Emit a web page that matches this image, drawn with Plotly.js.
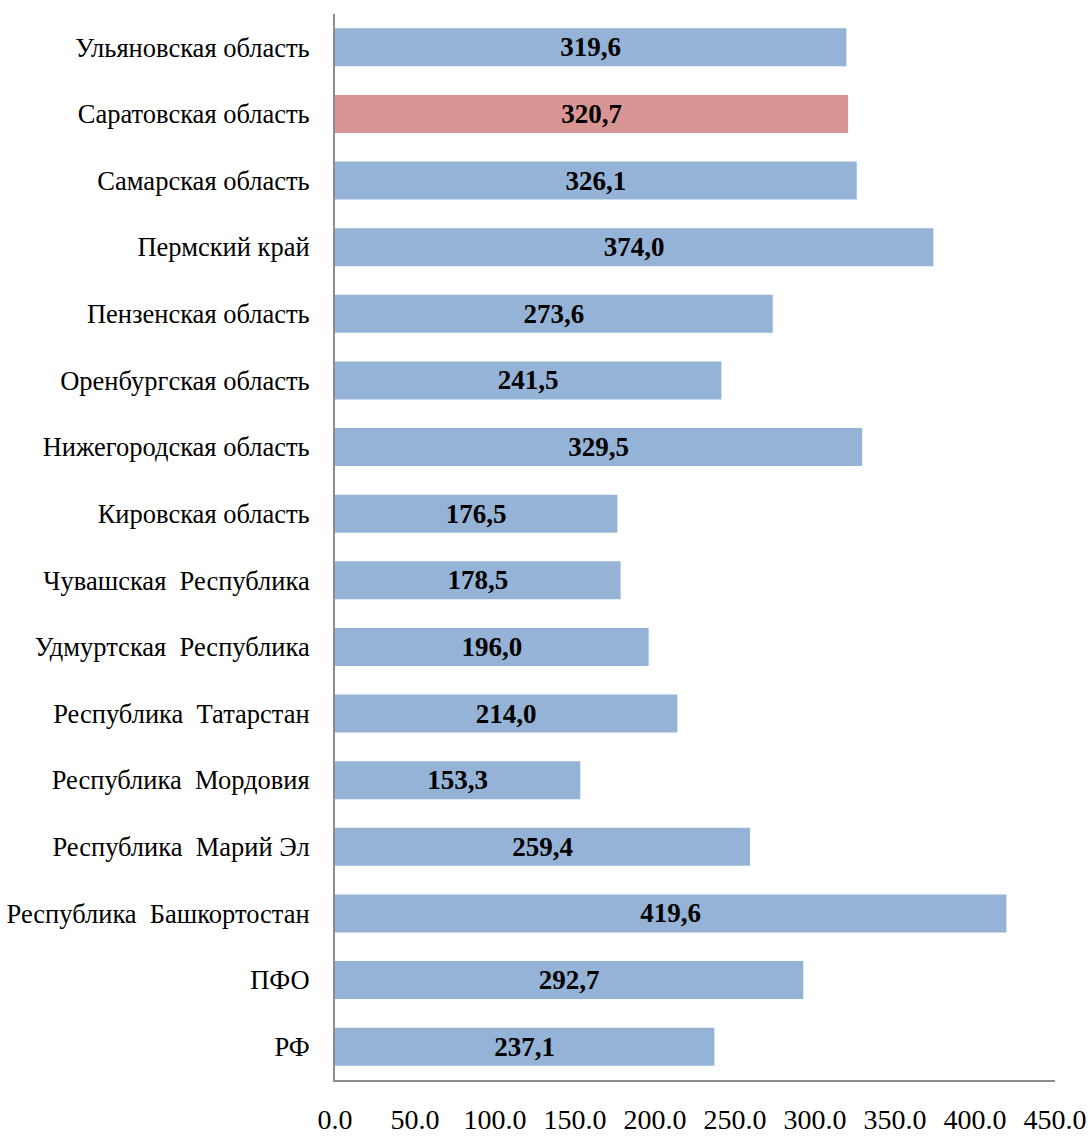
<!DOCTYPE html>
<html>
<head>
<meta charset="utf-8">
<script src="https://cdn.plot.ly/plotly-3.0.1.min.js"></script>
<style>
  html, body { margin: 0; padding: 0; background: #fff; }
  #chart { width: 1088px; height: 1137px; }
</style>
</head>
<body>
<div id="chart"></div>
<script>
// Regions, listed bottom to top as they appear on the axis
const regions = [
  'РФ',
  'ПФО',
  'Республика  Башкортостан',
  'Республика  Марий Эл',
  'Республика  Мордовия',
  'Республика  Татарстан',
  'Удмуртская  Республика',
  'Чувашская  Республика',
  'Кировская область',
  'Нижегородская область',
  'Оренбургская область',
  'Пензенская область',
  'Пермский край',
  'Самарская область',
  'Саратовская область',
  'Ульяновская область'
];
const values = [237.1, 292.7, 419.6, 259.4, 153.3, 214.0, 196.0, 178.5, 176.5, 329.5, 241.5, 273.6, 374.0, 326.1, 320.7, 319.6];
const highlighted = 'Саратовская область';
const xTicks = [0, 50, 100, 150, 200, 250, 300, 350, 400, 450];

const barColors = regions.map(r => r === highlighted ? '#D99594' : '#95B3D7');
const labels = values.map(v => v.toFixed(1).replace('.', ','));
const serif = 'Liberation Serif, Times New Roman, serif';

const trace = {
  type: 'bar',
  orientation: 'h',
  y: regions,
  x: values,
  marker: { color: barColors, line: { width: 0 } },
  text: labels,
  textposition: 'inside',
  insidetextanchor: 'middle',
  textangle: 0,
  insidetextfont: { family: serif, size: 27, color: '#000', weight: 'bold' },
  constraintext: 'none',
  hoverinfo: 'none',
  cliponaxis: false
};

const layout = {
  width: 1088,
  height: 1137,
  margin: { l: 335, r: 33, t: 14, b: 57 },
  paper_bgcolor: '#fff',
  plot_bgcolor: '#fff',
  showlegend: false,
  bargap: 0.43,
  font: { family: serif, size: 26, color: '#000' },
  xaxis: {
    range: [0, 450],
    tickvals: xTicks,
    tickformat: '.1f',
    showgrid: false,
    zeroline: false,
    showline: true,
    linecolor: '#8c8c8c',
    linewidth: 2,
    ticks: '',
    ticklabelstandoff: 13,
    tickfont: { size: 28 },
    fixedrange: true
  },
  yaxis: {
    type: 'category',
    categoryorder: 'array',
    categoryarray: regions,
    showgrid: false,
    zeroline: false,
    showline: true,
    linecolor: '#8c8c8c',
    linewidth: 2,
    ticks: '',
    ticklabelstandoff: 18,
    tickfont: { size: 26.5 },
    fixedrange: true
  }
};

Plotly.newPlot('chart', [trace], layout, { displayModeBar: false, staticPlot: true });
</script>
</body>
</html>
